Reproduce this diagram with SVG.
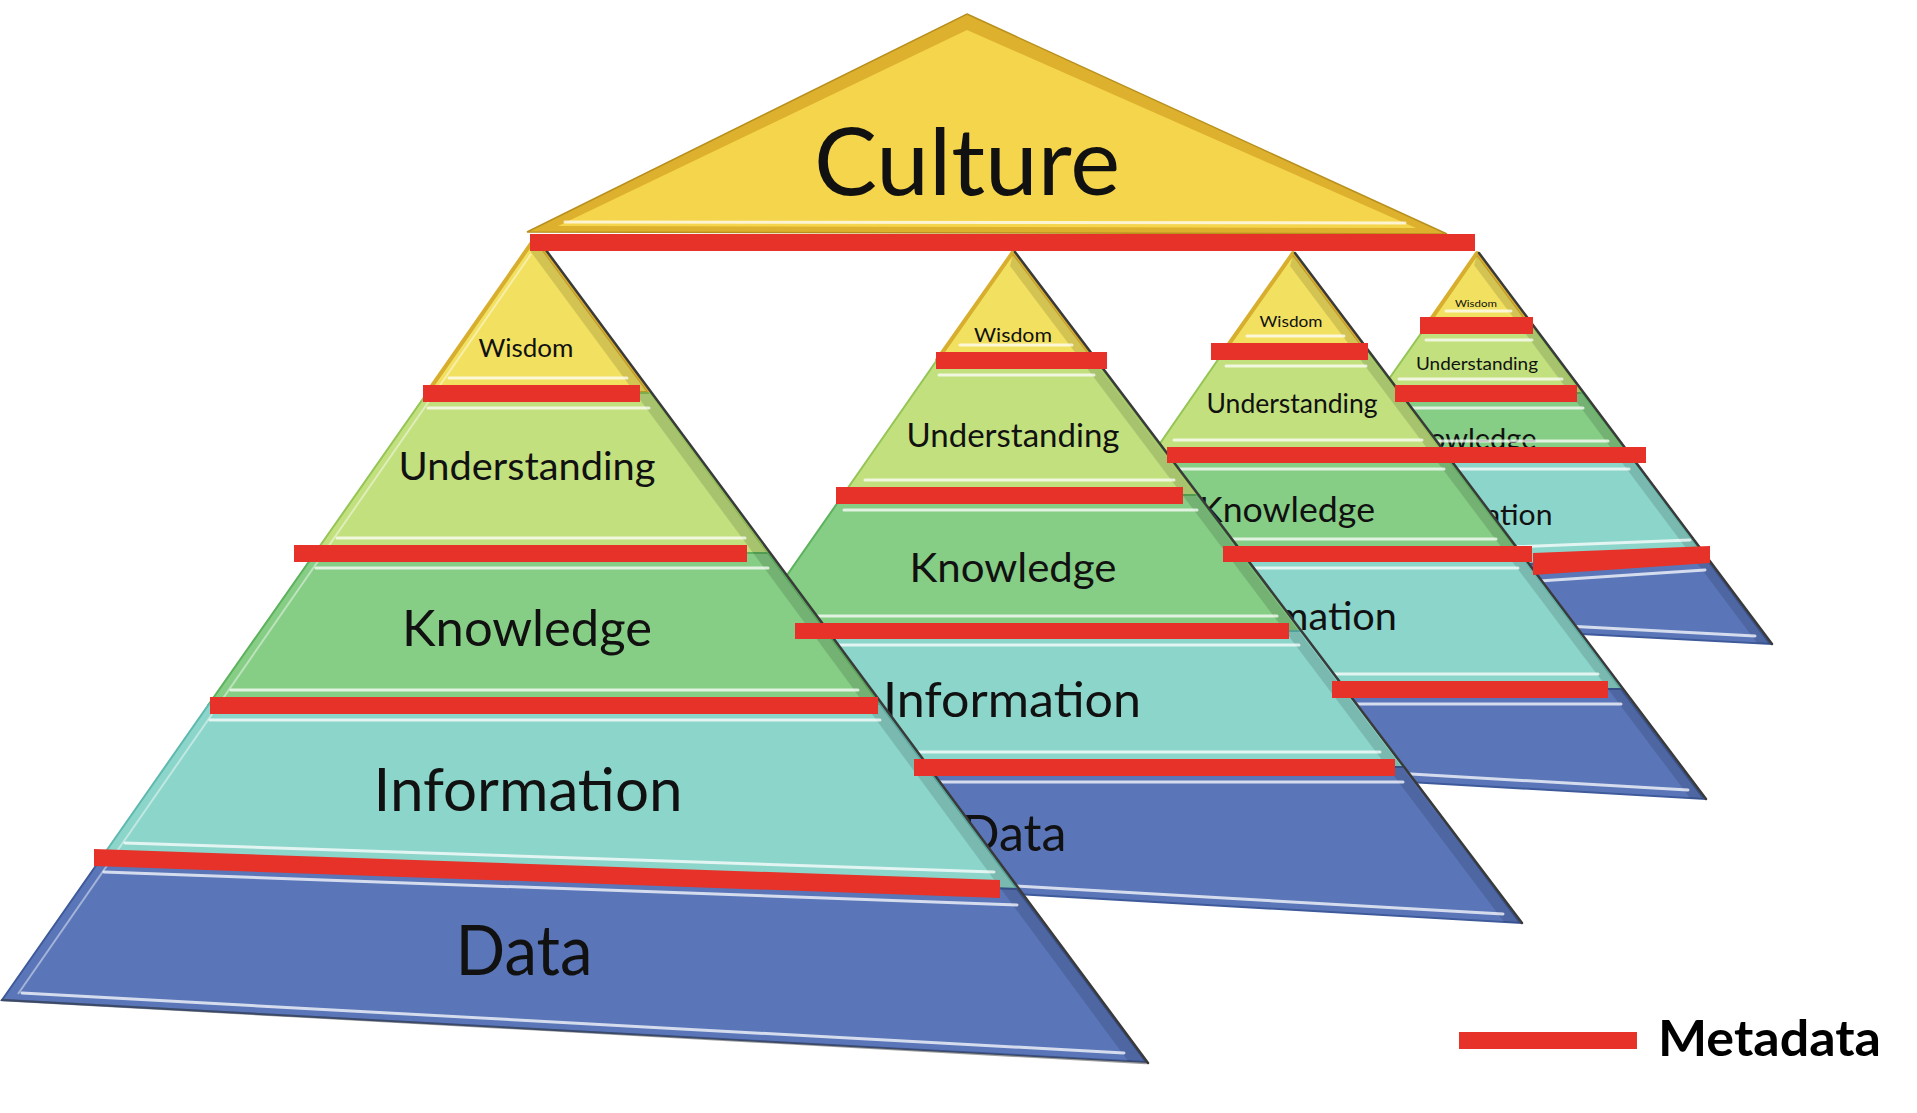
<svg xmlns="http://www.w3.org/2000/svg" width="1917" height="1113" viewBox="0 0 1917 1113">
<style>
.wis{fill:#F2E160;stroke:#D8AE2E;stroke-width:4;stroke-linejoin:round}
.und{fill:#C2E07E;stroke:#94C556;stroke-width:2}
.kno{fill:#86CD85;stroke:#5DB25E;stroke-width:2}
.inf{fill:#8CD5CA;stroke:#5FB9AE;stroke-width:2}
.dat{fill:#5A76B9;stroke:#3E5A9A;stroke-width:2}
.bar{fill:#E63228}
.hl{stroke:#FFFFFF;stroke-opacity:.75;stroke-width:3;fill:none;stroke-linecap:round}
.lhl{stroke:#FFFFFF;stroke-opacity:.45;stroke-width:2;fill:none}
.band{fill:#000;fill-opacity:.13}
.edge{stroke:#3A3A3A;stroke-width:2.5;fill:none;stroke-linecap:round}
.lbl{font-family:Lato,"Open Sans","Liberation Sans",sans-serif;fill:#111;text-anchor:middle}
</style>
<rect width="1917" height="1113" fill="#FFFFFF"/>

<!-- Pyramid 4 (back) -->
<g id="pyramid4">
  <g id="p4-wisdom"><polygon class="wis" points="1477,253 1531,325 1427,325"/><text class="lbl" x="1476" y="307" font-size="9" textLength="42" lengthAdjust="spacingAndGlyphs">Wisdom</text></g>
  <g id="p4-understanding"><polygon class="und" points="1427,325 1531,325 1582,393 1379,393"/><text class="lbl" x="1477" y="370" font-size="18" textLength="122" lengthAdjust="spacingAndGlyphs">Understanding</text></g>
  <g id="p4-knowledge"><polygon class="kno" points="1379,393 1582,393 1629,455 1336,455"/><text class="lbl" x="1465" y="449" font-size="29" textLength="143" lengthAdjust="spacingAndGlyphs">Knowledge</text></g>
  <g id="p4-information"><polygon class="inf" points="1336,455 1629,455 1703,554 1249,580"/><text class="lbl" x="1475" y="525" font-size="29" textLength="155" lengthAdjust="spacingAndGlyphs">Information</text></g>
  <g id="p4-data"><polygon class="dat" points="1249,580 1703,554 1770,644 1224,615"/></g>
  <polygon class="band" points="1477,255 1770,644 1757,643 1474,265"/>
  <path class="hl" d="M1446,311H1511M1426,340H1532M1399,379H1562M1379,408H1583M1355,441H1608M1336,469H1629M1300,555L1690,540M1300,597L1705,570M1300,612L1755,636"/>
  <line class="edge" x1="1479" y1="253" x2="1772" y2="644"/>
</g>

<!-- Pyramid 3 -->
<g id="pyramid3">
  <g id="p3-wisdom"><polygon class="wis" points="1293,253 1367,351 1224,351"/><text class="lbl" x="1291" y="327" font-size="15" textLength="63" lengthAdjust="spacingAndGlyphs">Wisdom</text></g>
  <g id="p3-understanding"><polygon class="und" points="1224,351 1367,351 1445,455 1152,455"/><text class="lbl" x="1292" y="413" font-size="26" textLength="171" lengthAdjust="spacingAndGlyphs">Understanding</text></g>
  <g id="p3-knowledge"><polygon class="kno" points="1152,455 1445,455 1520,554 1082,554"/><text class="lbl" x="1287" y="522" font-size="35" textLength="176" lengthAdjust="spacingAndGlyphs">Knowledge</text></g>
  <g id="p3-information"><polygon class="inf" points="1082,554 1520,554 1621,689 988,689"/><text class="lbl" x="1295" y="630" font-size="38" textLength="204" lengthAdjust="spacingAndGlyphs">Information</text></g>
  <g id="p3-data"><polygon class="dat" points="988,689 1621,689 1704,799 942,755"/></g>
  <polygon class="band" points="1293,255 1704,799 1690,798 1290,266"/>
  <path class="hl" d="M1247,336H1344M1226,366H1366M1174,440H1422M1154,469H1444M1105,539H1496M1084,568H1518M1010,674H1598M989,704H1621M1100,756L1688,790"/>
  <line class="edge" x1="1295" y1="253" x2="1706" y2="799"/>
</g>

<!-- Pyramid 2 -->
<g id="pyramid2">
  <g id="p2-wisdom"><polygon class="wis" points="1013,252 1095,360 937,360"/><text class="lbl" x="1013" y="342" font-size="20" textLength="78" lengthAdjust="spacingAndGlyphs">Wisdom</text></g>
  <g id="p2-understanding"><polygon class="und" points="937,360 1095,360 1197,495 843,495"/><text class="lbl" x="1013" y="447" font-size="32" textLength="213" lengthAdjust="spacingAndGlyphs">Understanding</text></g>
  <g id="p2-knowledge"><polygon class="kno" points="843,495 1197,495 1301,631 748,631"/><text class="lbl" x="1013" y="582" font-size="41" textLength="207" lengthAdjust="spacingAndGlyphs">Knowledge</text></g>
  <g id="p2-information"><polygon class="inf" points="748,631 1301,631 1404,767 652,767"/><text class="lbl" x="1012" y="717" font-size="48" textLength="258" lengthAdjust="spacingAndGlyphs">Information</text></g>
  <g id="p2-data"><polygon class="dat" points="652,767 1404,767 1520,923 582,869"/><text class="lbl" x="1014" y="851" font-size="50" textLength="105" lengthAdjust="spacingAndGlyphs">Data</text></g>
  <polygon class="band" points="1013,254 1520,923 1504,922 1010,266"/>
  <path class="hl" d="M960,345H1072M939,375H1094M865,480H1174M844,510H1197M770,616H1277M750,645H1299M675,752H1380M654,782H1403M700,868L1503,914"/>
  <line class="edge" x1="1015" y1="252" x2="1522" y2="923"/>
</g>

<!-- Pyramid 1 (front) -->
<g id="pyramid1">
  <g id="p1-wisdom"><polygon class="wis" points="535,238 650,393 427,393"/><text class="lbl" x="526" y="357" font-size="25" textLength="95" lengthAdjust="spacingAndGlyphs">Wisdom</text></g>
  <g id="p1-understanding"><polygon class="und" points="427,393 650,393 768,553 315,553"/><text class="lbl" x="527" y="480" font-size="38" textLength="257" lengthAdjust="spacingAndGlyphs">Understanding</text></g>
  <g id="p1-knowledge"><polygon class="kno" points="315,553 768,553 880,704 209,704"/><text class="lbl" x="527" y="646" font-size="50" textLength="250" lengthAdjust="spacingAndGlyphs">Knowledge</text></g>
  <g id="p1-information"><polygon class="inf" points="209,704 880,704 1017,889 102,857"/><text class="lbl" x="528" y="811" font-size="60" textLength="309" lengthAdjust="spacingAndGlyphs">Information</text></g>
  <g id="p1-data"><polygon class="dat" points="102,857 1017,889 1146,1062 2,1000"/><text class="lbl" x="524" y="975" font-size="70" textLength="137" lengthAdjust="spacingAndGlyphs">Data</text></g>
  <polygon class="band" points="535,240 1146,1062 1128,1061 531,252"/>
  <path class="lhl" d="M531,254L18,994"/>
  <path class="hl" d="M449,378H627M428,408H649M337,538H745M316,568H768M231,690H858M210,720H880M125,843L994,872M104,872L1017,905M22,993L1124,1053"/>
  <line class="edge" x1="537" y1="238" x2="1148" y2="1063"/>
  <line class="edge" x1="2" y1="1000" x2="1146" y2="1063" stroke-opacity=".5"/>
</g>

<!-- Culture -->
<g id="culture">
  <polygon points="967,14 1447,234 527,232" fill="#DDB02E" stroke="#B8901E" stroke-width="1.5"/>
  <polygon points="967,30 1416,228 558,226" fill="#F5D54B"/>
  <line class="hl" x1="565" y1="222" x2="1405" y2="223"/>
  <text class="lbl" x="967" y="195" font-size="94" textLength="306" lengthAdjust="spacingAndGlyphs">Culture</text>
</g>

<!-- Metadata lines -->
<g id="metadata-lines">
  <rect class="bar" x="530" y="234" width="945" height="17"/>
  <rect class="bar" x="423" y="385" width="217" height="17"/>
  <rect class="bar" x="294" y="545" width="453" height="17"/>
  <rect class="bar" x="210" y="697" width="668" height="17"/>
  <polygon class="bar" points="94,849 1000,880 1000,898 94,866"/>
  <rect class="bar" x="936" y="352" width="171" height="17"/>
  <rect class="bar" x="836" y="487" width="347" height="17"/>
  <rect class="bar" x="795" y="623" width="494" height="16"/>
  <rect class="bar" x="914" y="759" width="481" height="17"/>
  <rect class="bar" x="1211" y="343" width="157" height="17"/>
  <rect class="bar" x="1167" y="447" width="282" height="16"/>
  <rect class="bar" x="1223" y="546" width="309" height="16"/>
  <rect class="bar" x="1332" y="681" width="276" height="17"/>
  <rect class="bar" x="1420" y="317" width="113" height="17"/>
  <rect class="bar" x="1395" y="385" width="182" height="17"/>
  <rect class="bar" x="1449" y="447" width="197" height="16"/>
  <polygon class="bar" points="1533,553 1710,546 1710,563 1533,575"/>
</g>

<!-- Legend -->
<g id="legend">
  <rect class="bar" x="1459" y="1032" width="178" height="17"/>
  <text x="1658" y="1056" font-family="Lato,'Open Sans','Liberation Sans',sans-serif" font-weight="bold" font-size="49" fill="#000" textLength="223" lengthAdjust="spacingAndGlyphs">Metadata</text>
</g>
</svg>
